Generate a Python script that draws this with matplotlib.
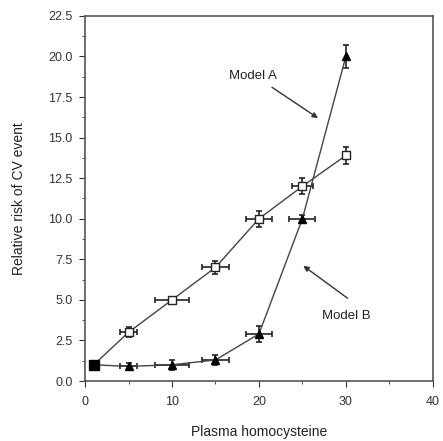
import matplotlib
matplotlib.use("Agg")
import matplotlib.pyplot as plt
from matplotlib.ticker import MultipleLocator

plt.rcParams['font.family'] = ['Liberation Sans', 'DejaVu Sans']

x_vals = [1, 5, 10, 15, 20, 25, 30]
model_a = [1.0, 3.0, 5.0, 7.0, 10.0, 12.0, 13.9]
model_a_xerr = [0, 1.0, 2.0, 1.5, 1.5, 1.2, 0]
model_a_yerr = [0, 0.3, 0.2, 0.4, 0.5, 0.5, 0.5]
model_b = [1.0, 0.9, 1.0, 1.3, 2.9, 10.0, 20.0]
model_b_xerr = [0, 1.0, 2.0, 1.5, 1.5, 1.5, 0]
model_b_yerr = [0, 0.2, 0.3, 0.3, 0.5, 0.2, 0.7]

fig = plt.figure(figsize=(4.43, 4.41), dpi=100)
ax = fig.add_axes([0.192, 0.136, 0.785, 0.828])

ax.errorbar(x_vals, model_a, xerr=model_a_xerr, yerr=model_a_yerr, fmt='s',
            mfc='white', mec='#222222', ms=6, color='#444444', lw=1.0,
            ecolor='#222222', elinewidth=1.2, capsize=2.5, capthick=1.2, ls='-', zorder=3)
ax.errorbar(x_vals, model_b, xerr=model_b_xerr, yerr=model_b_yerr, fmt='^',
            mfc='black', mec='black', ms=6, color='#444444', lw=1.0,
            ecolor='#222222', elinewidth=1.2, capsize=2.5, capthick=1.2, ls='-', zorder=3)
ax.plot([x_vals[0]], [model_a[0]], 's', color='black', ms=7, zorder=4)

ax.annotate('Model A', xy=(26.8, 16.2), xytext=(16.6, 18.8), fontsize=9.5,
            ha='left', va='center', color='#222222')
ax.annotate('', xy=(26.8, 16.2), xytext=(21.5, 18.1),
            arrowprops=dict(arrowstyle='-|>', color='#333333', lw=1.0,
                            shrinkA=0, shrinkB=0, mutation_scale=8))
ax.annotate('Model B', xy=(25.3, 7.1), xytext=(27.2, 4.0), fontsize=9.5,
            ha='left', va='center', color='#222222')
ax.annotate('', xy=(25.1, 7.1), xytext=(30.2, 5.1),
            arrowprops=dict(arrowstyle='-|>', color='#333333', lw=1.0,
                            shrinkA=0, shrinkB=0, mutation_scale=8))

ax.set_xlim(0, 40)
ax.set_ylim(0, 22.5)
ax.xaxis.set_major_locator(MultipleLocator(10))
ax.xaxis.set_minor_locator(MultipleLocator(5))
ax.yaxis.set_major_locator(MultipleLocator(2.5))
ax.yaxis.set_minor_locator(MultipleLocator(1.25))
ax.set_yticklabels([f'{v:.1f}' for v in ax.get_yticks()])
ax.tick_params(which='both', direction='out', labelsize=9, colors='#333333')
ax.tick_params(axis='x', which='major', length=4, pad=7)
ax.tick_params(axis='y', which='major', length=4, pad=5)
ax.tick_params(which='minor', length=2.5)
for s in ax.spines.values():
    s.set_color('#555555')
    s.set_linewidth(1.2)
ax.set_xlabel('Plasma homocysteine', fontsize=10, labelpad=12, color='#222222')
ax.set_ylabel('Relative risk of CV event', fontsize=10, labelpad=16, color='#222222')

fig.savefig('out.png', dpi=100)
